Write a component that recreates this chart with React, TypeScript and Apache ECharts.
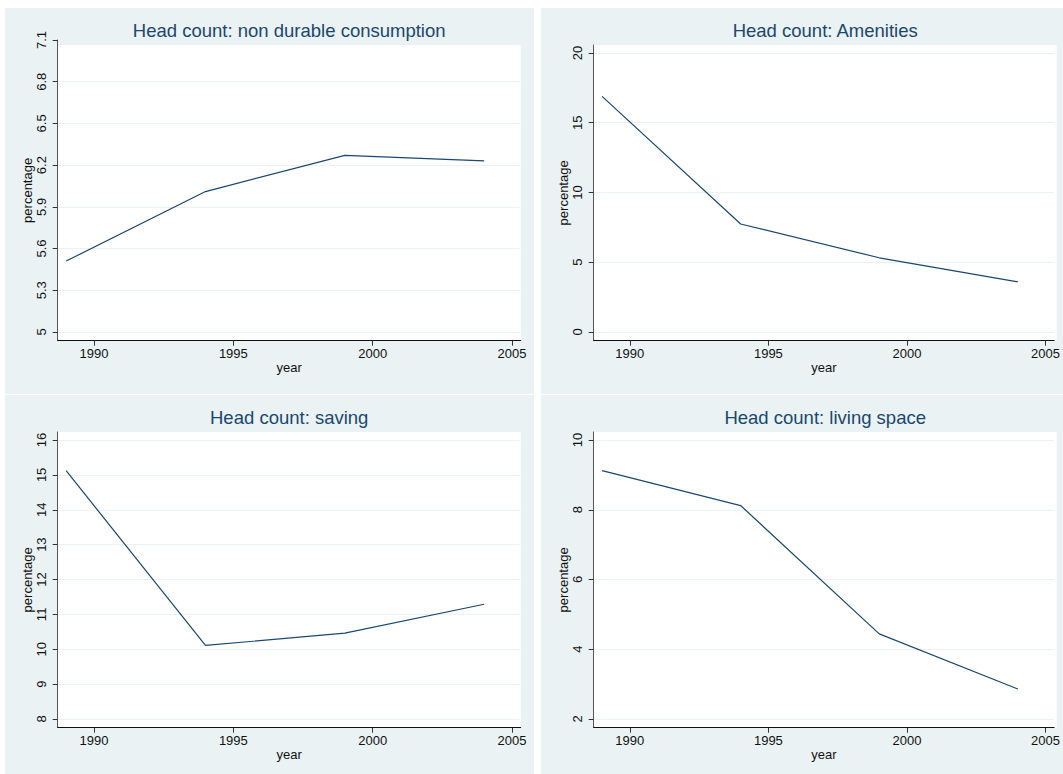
import React, { useEffect, useRef } from "react";
import * as echarts from "echarts";

// ---- data ----
const years = [1989, 1994, 1999, 2004];
const xTicks = [1990, 1995, 2000, 2005];

const titles = [
  "Head count: non durable consumption",
  "Head count: Amenities",
  "Head count: saving",
  "Head count: living space",
];

const nonDurable = [5.51, 6.01, 6.27, 6.23];
const amenities = [16.89, 7.74, 5.32, 3.59];
const saving = [15.12, 10.11, 10.46, 11.29];
const livingSpace = [9.12, 8.12, 4.44, 2.86];

const yTicksNonDurable = [5, 5.3, 5.6, 5.9, 6.2, 6.5, 6.8, 7.1];
const yTicksAmenities = [0, 5, 10, 15, 20];
const yTicksSaving = [8, 9, 10, 11, 12, 13, 14, 15, 16];
const yTicksLiving = [2, 4, 6, 8, 10];

const seriesValues = [nonDurable, amenities, saving, livingSpace];
const yTicksList = [yTicksNonDurable, yTicksAmenities, yTicksSaving, yTicksLiving];

// ---- layout / style ----
const W = 1063;
const H = 774;
const PANEL_BG = "#EAF2F3";
const NAVY = "#1A476F";
const FONT = "'Liberation Sans', Arial, Helvetica, sans-serif";

const panelOrigins = [
  [5, 8],
  [541, 8],
  [5, 395],
  [541, 395],
];
const PANEL_W = 529;
const PANEL_H = 386;
const PLOT_DX = 52.7;
const PLOT_W = 463;
const PLOT_TOP = 37;
const PLOT_BOTTOM = 332.7;
const TICK_BOTTOM = 324;
// x scale: 1990 tick at +36.3 from plot left, 2005 tick at +454.3
const X_T0 = 36.3;
const X_T1 = 454.3;

export default function App() {
  const ref = useRef<HTMLDivElement>(null);

  useEffect(() => {
    if (!ref.current) return;
    const chart = echarts.init(ref.current, undefined, { renderer: "svg" });

    const xPx = (X_T1 - X_T0) / (xTicks[xTicks.length - 1] - xTicks[0]);
    const xMin = xTicks[0] - X_T0 / xPx;
    const xMax = xTicks[xTicks.length - 1] + (PLOT_W - X_T1) / xPx;

    const grids: any[] = [];
    const xAxes: any[] = [];
    const yAxes: any[] = [];
    const series: any[] = [];
    const titleOpts: any[] = [];
    const graphics: any[] = [];

    panelOrigins.forEach(([ox, oy], i) => {
      const ticks = yTicksList[i];
      const lo = ticks[0];
      const hi = ticks[ticks.length - 1];
      const gridTop = i === 0 ? 32 : PLOT_TOP;
      const tickTop = i === 0 ? 32 : 45;
      const unit = (TICK_BOTTOM - tickTop) / (hi - lo);
      const yMax = hi + (tickTop - gridTop) / unit;
      const yMin = lo - (PLOT_BOTTOM - TICK_BOTTOM) / unit;

      graphics.push({
        type: "rect",
        z: -10,
        shape: { x: ox, y: oy, width: PANEL_W, height: PANEL_H },
        style: { fill: PANEL_BG },
        silent: true,
      });
      graphics.push({
        type: "rect",
        z: -5,
        shape: {
          x: ox + PLOT_DX,
          y: oy + PLOT_TOP,
          width: PLOT_W,
          height: PLOT_BOTTOM - PLOT_TOP,
        },
        style: { fill: "#ffffff" },
        silent: true,
      });

      grids.push({
        left: ox + PLOT_DX,
        top: oy + gridTop,
        width: PLOT_W,
        height: PLOT_BOTTOM - gridTop,
        containLabel: false,
      });

      xAxes.push({
        type: "value",
        gridIndex: i,
        min: xMin,
        max: xMax,
        name: "year",
        nameLocation: "middle",
        nameGap: 18,
        nameTextStyle: { color: "#111", fontSize: 13, fontFamily: FONT },
        axisLine: { show: true, onZero: false, lineStyle: { color: "#111", width: 1 } },
        axisTick: {
          show: true,
          inside: false,
          length: 5,
          customValues: xTicks,
          lineStyle: { color: "#333", width: 1 },
        },
        axisLabel: {
          show: true,
          customValues: xTicks,
          margin: 6,
          color: "#111",
          fontSize: 13,
          fontFamily: FONT,
          formatter: (v: number) => String(Math.round(v)),
        },
        splitLine: { show: false },
      });

      yAxes.push({
        type: "value",
        gridIndex: i,
        min: yMin,
        max: yMax,
        name: "percentage",
        nameLocation: "middle",
        nameGap: 23,
        nameTextStyle: { color: "#111", fontSize: 13, fontFamily: FONT },
        axisLine: { show: true, onZero: false, lineStyle: { color: "#555", width: 1 } },
        axisTick: {
          show: true,
          inside: false,
          length: 5,
          customValues: ticks,
          lineStyle: { color: "#333", width: 1 },
        },
        axisLabel: {
          show: true,
          customValues: ticks,
          rotate: 90,
          margin: 10,
          color: "#111",
          fontSize: 13,
          fontFamily: FONT,
          formatter: (v: number) => String(+v.toFixed(2)),
        },
        splitLine: { show: true, lineStyle: { color: PANEL_BG, width: 1 } },
      });

      series.push({
        type: "line",
        xAxisIndex: i,
        yAxisIndex: i,
        data: years.map((y, k) => [y, seriesValues[i][k]]),
        showSymbol: false,
        symbol: "none",
        lineStyle: { color: NAVY, width: 1.2 },
        z: 3,
      });

      titleOpts.push({
        text: titles[i],
        left: ox + PLOT_DX + PLOT_W / 2,
        top: oy + 22.5 - 9.25,
        textAlign: "center",
        padding: 0,
        textStyle: {
          color: NAVY,
          fontSize: 18.5,
          fontWeight: "normal",
          fontFamily: FONT,
        },
      });
    });

    chart.setOption({
      animation: false,
      backgroundColor: "#ffffff",
      title: titleOpts,
      grid: grids,
      xAxis: xAxes,
      yAxis: yAxes,
      series,
      graphic: { elements: graphics },
    });

    return () => {
      chart.dispose();
    };
  }, []);

  return (
    <div
      ref={ref}
      style={{ position: "absolute", left: 0, top: 0, width: W, height: H }}
    />
  );
}
